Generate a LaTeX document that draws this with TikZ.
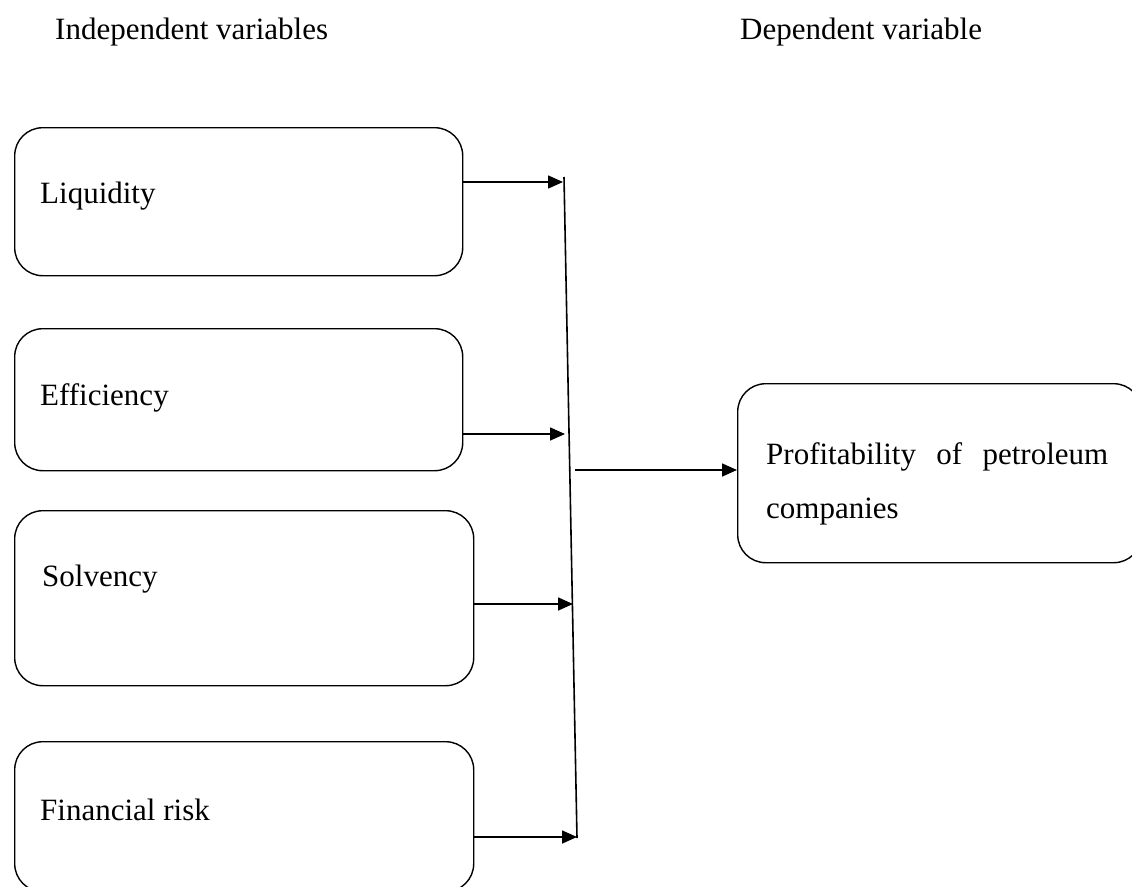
\documentclass[tikz,border=0pt]{standalone}
\usepackage{fontspec}
\setmainfont{Liberation Serif}
\usetikzlibrary{arrows.meta}
\begin{document}
\begin{tikzpicture}[x=1pt,y=-1pt,
  box/.style={draw,line width=1.4pt,rounded corners=28pt,anchor=north west,inner sep=0pt},
  lbl/.style={anchor=base west,inner sep=0pt,font=\fontsize{31}{54}\selectfont},
  arr/.style={line width=1.6pt,-{Triangle[length=15pt,width=13pt]}},
  conn/.style={line width=1.6pt}]
\useasboundingbox (0,0) rectangle (1132,886);
\node[lbl] (hind) at (55,39) {Independent variables};
\node[lbl] (hdep) at (740,39) {Dependent variable};
\node[box,minimum width=448pt,minimum height=148pt] (liq) at (14,127) {};
\node[box,minimum width=448pt,minimum height=142pt] (eff) at (14,328) {};
\node[box,minimum width=459pt,minimum height=175pt] (sol) at (14,510) {};
\node[box,minimum width=459pt,minimum height=150pt] (fin) at (14,741) {};
\node[box,minimum width=404pt,minimum height=179pt] (prof) at (737,383) {};
\node[lbl] (tliq) at (40,203) {Liquidity};
\node[lbl] (teff) at (40,405) {Efficiency};
\node[lbl] (tsol) at (42,586) {Solvency};
\node[lbl] (tfin) at (40,820) {Financial risk};
\node[lbl,anchor=base west,text width=342pt,align=justify] (tprof) at (766,464)
  {\hyphenpenalty=10000 Profitability of petroleum companies};
\coordinate (vt) at (564,177);
\coordinate (vb) at (577,838);
\draw[conn] (vt) -- (vb);
\coordinate (a1) at (563,182);
\coordinate (a2) at (565,434);
\coordinate (a3) at (573,604);
\coordinate (a4) at (577,837);
\draw[arr] (liq.east |- a1) -- (a1);
\draw[arr] (eff.east |- a2) -- (a2);
\draw[arr] (sol.east |- a3) -- (a3);
\draw[arr] (fin.east |- a4) -- (a4);
\coordinate (m) at (575,470);
\draw[arr] (m) -- (m -| prof.west);
\end{tikzpicture}
\end{document}
